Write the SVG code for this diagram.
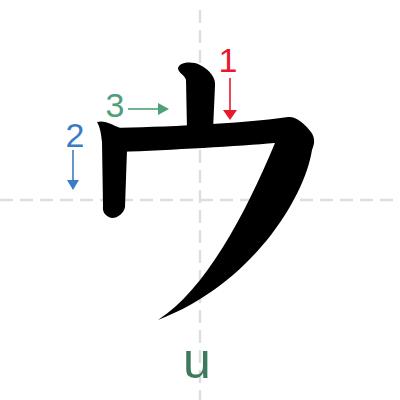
<svg xmlns="http://www.w3.org/2000/svg" width="400" height="400" viewBox="0 0 400 400">
<style>
.grid{stroke:#dcdfdd;stroke-width:2.5;stroke-dasharray:13 7;fill:none}
.stroke{fill:#000}
.num{font-family:"Liberation Sans",Arial,sans-serif;font-size:34px;text-anchor:middle}
.red{fill:#e8192c}
.green{fill:#4f9f7b}
.blue{fill:#3a7cc6}
.ar{fill:none;stroke-width:1.6}
</style>
<rect width="400" height="400" fill="#fff"/>
<g id="grid">
<line class="grid" x1="0" y1="200" x2="400" y2="200"/>
<line class="grid" x1="200" y1="10" x2="200" y2="400"/>
</g>
<g id="stroke1"><path class="stroke" d="M178,68 C180,62 192,61 200,65 C210,70 216,78 215,86 L213,130 L187,130 L186,80 C185,75 178,73 178,68 Z"/></g>
<g id="stroke2"><path class="stroke" d="M97,122 C104,120 111,124 120,128 L127,150 L125,207 C124,213 118,218 112,218 C106,217 102,212 103,206 L102,142 C101,133 100,127 97,122 Z"/></g>
<g id="stroke3"><path class="stroke" d="M112,128 C160,127 240,124 288,117 C296,116 305,124 311,132 C316,139 314,145 312,150 C304,200 250,285 158,320 C205,290 245,215 275,143 C240,146 170,150 120,152 Z"/></g>
<g id="labels">
<text class="num red" x="228" y="72">1</text>
<text class="num blue" x="75" y="147">2</text>
<text class="num green" x="115" y="117">3</text>
<text x="197" y="378" font-family="'Liberation Sans',Arial,sans-serif" font-size="50" fill="#3d7a5d" text-anchor="middle">u</text>
</g>
<g id="connectors">
<line class="ar" stroke="#e8192c" x1="230" y1="78" x2="230" y2="111"/>
<polygon class="red" points="223,110 237,110 230,120"/>
<line class="ar" stroke="#4f9f7b" x1="128" y1="109" x2="159" y2="109"/>
<polygon class="green" points="158,103 158,115 169,109"/>
<line class="ar" stroke="#3a7cc6" x1="73" y1="150" x2="73" y2="181"/>
<polygon class="blue" points="67,180 79,180 73,190"/>
</g>
</svg>
